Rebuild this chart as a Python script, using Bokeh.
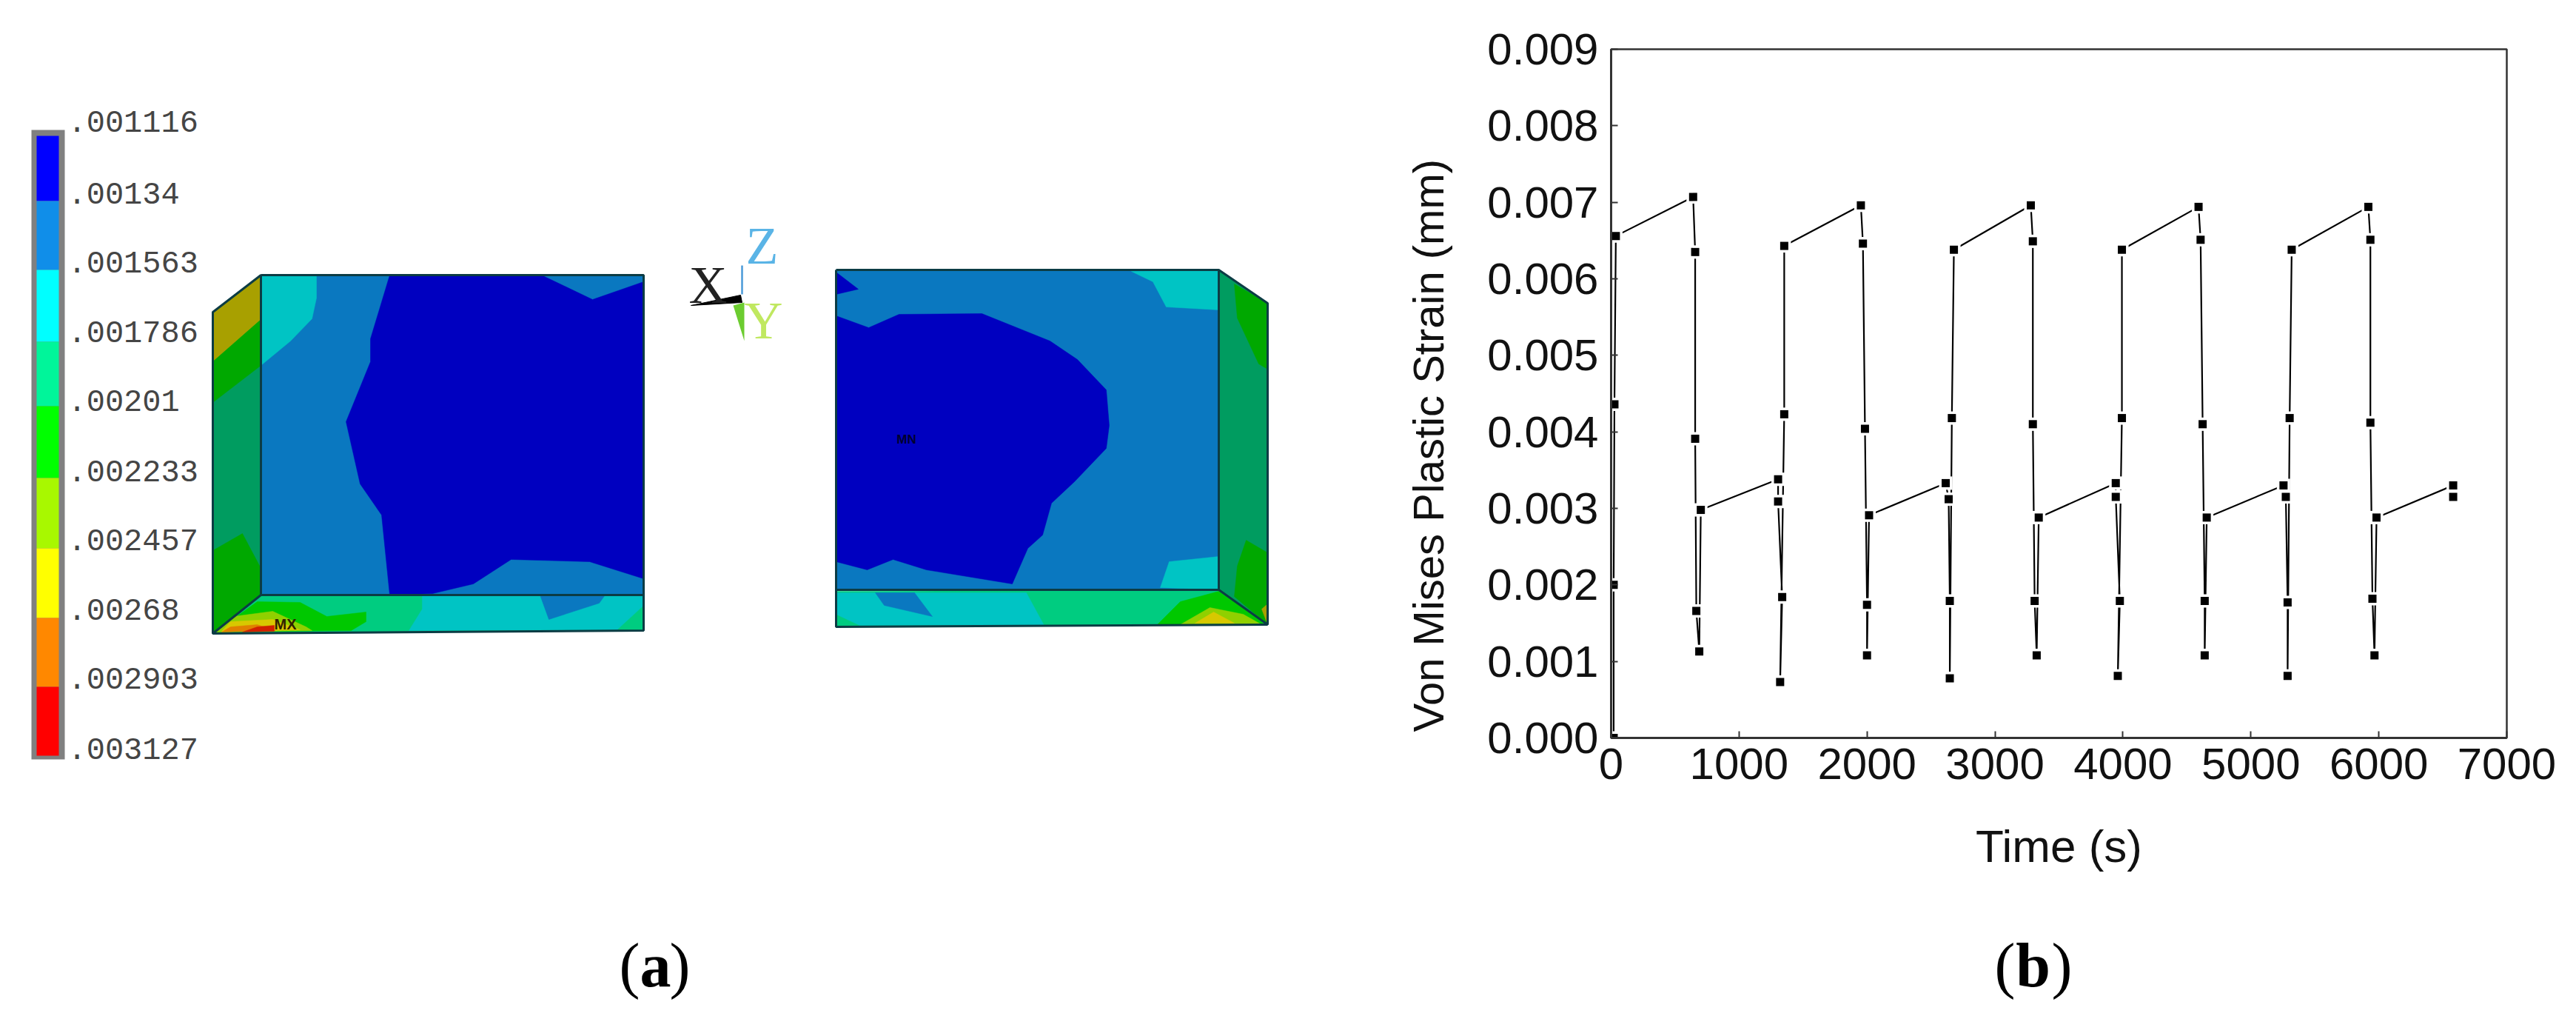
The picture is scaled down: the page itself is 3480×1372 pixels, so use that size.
from bokeh.plotting import figure
from bokeh.layouts import row, column
from bokeh.models import Range1d, Title, FixedTicker, NumeralTickFormatter
from bokeh.embed import file_html
from bokeh.resources import INLINE

# ---------- panel (b): chart data ----------
time_s = [20, 20, 26, 37, 641, 657, 657, 666, 689, 701, 1305, 1305, 1337, 1321, 1353, 1353,
          1952, 1968, 1984, 2000, 2000, 2016, 2615, 2638, 2647, 2647, 2663, 2679,
          3280, 3296, 3296, 3310, 3326, 3342, 3944, 3944, 3976, 3960, 3992, 3992,
          4591, 4607, 4623, 4639, 4639, 4655, 5255, 5273, 5287, 5287, 5303, 5319,
          5918, 5934, 5934, 5950, 5966, 5982, 6581, 6581]
strain = [0.00000, 0.00200, 0.00436, 0.00656, 0.00707, 0.00635, 0.00391, 0.00166, 0.00113, 0.00298,
          0.00338, 0.00309, 0.00184, 0.00073, 0.00423, 0.00643,
          0.00696, 0.00646, 0.00404, 0.00174, 0.00108, 0.00291, 0.00333, 0.00312, 0.00179, 0.00078,
          0.00418, 0.00638,
          0.00696, 0.00649, 0.00410, 0.00179, 0.00108, 0.00288, 0.00333, 0.00315, 0.00179, 0.00081,
          0.00418, 0.00638,
          0.00694, 0.00651, 0.00410, 0.00179, 0.00108, 0.00288, 0.00330, 0.00315, 0.00177, 0.00081,
          0.00418, 0.00638,
          0.00694, 0.00651, 0.00412, 0.00182, 0.00108, 0.00288, 0.00330, 0.00315]
x_ticks = [0, 1000, 2000, 3000, 4000, 5000, 6000, 7000]
y_ticks = [0.000, 0.001, 0.002, 0.003, 0.004, 0.005, 0.006, 0.007, 0.008, 0.009]
x_title = "Time (s)"
y_title = "Von Mises Plastic Strain (mm)"

# ---------- panel (a): colour key ----------
key_labels = [".001116", ".00134", ".001563", ".001786", ".00201",
              ".002233", ".002457", ".00268", ".002903", ".003127"]
key_centers = [163, 260, 353, 447, 540, 635, 728, 822, 915, 1010]
key_edges = [183, 271, 364, 461, 548, 645, 740, 834, 927, 1020]
key_colors = ["#0000ff", "#108ee9", "#00ffff", "#00f59a", "#00ff00",
              "#a8f800", "#ffff00", "#ff8800", "#ff0000"]

# ---------- panel (a): contour regions, in picture coordinates ----------
C_MID = "#0a78c0"; C_DEEP = "#0000c0"; C_CYAN = "#00c4c4"; C_TEAL = "#00cc80"
C_SIDE = "#009c60"; C_GREEN = "#00a800"; C_BRIGHT = "#00c800"; C_OLIVE = "#a8a000"
C_LIME = "#90d000"; C_YEL = "#d8c800"; C_OR = "#e08000"; C_RED = "#d02000"

left_regions = [
    (C_MID, [(352, 371), (869, 371), (869, 803), (352, 803)]),
    (C_DEEP, [(526, 371), (731, 371), (800, 404), (869, 380), (869, 781), (796, 758), (690, 755),
              (639, 788), (584, 801), (526, 803), (515, 695), (486, 653), (467, 569), (500, 488), (500, 457)]),
    (C_CYAN, [(352, 371), (427, 371), (427, 402), (421, 430), (392, 460), (352, 493)]),
    (C_SIDE, [(287, 421), (352, 371), (352, 803), (287, 855)]),
    (C_OLIVE, [(287, 421), (352, 371), (352, 431), (287, 488)]),
    (C_GREEN, [(287, 488), (352, 431), (352, 493), (287, 543)]),
    (C_GREEN, [(287, 743), (327, 720), (352, 767), (352, 803), (287, 855)]),
    (C_TEAL, [(352, 803), (869, 803), (869, 851), (287, 855)]),
    (C_CYAN, [(570, 803), (869, 803), (869, 817), (833, 850), (552, 851), (570, 822)]),
    (C_MID, [(729, 803), (817, 803), (809, 814), (741, 836)]),
    (C_BRIGHT, [(347, 812), (405, 813), (441, 832), (494, 826), (494, 839), (474, 851), (290, 853)]),
    (C_LIME, [(315, 832), (368, 825), (413, 846), (421, 851), (292, 853)]),
    (C_YEL, [(311, 839), (368, 836), (405, 850), (299, 852)]),
    (C_OR, [(311, 846), (347, 843), (372, 851), (299, 853)]),
    (C_RED, [(347, 846), (370, 844), (370, 852), (327, 853)]),
]
right_regions = [
    (C_MID, [(1129, 364), (1646, 364), (1646, 796), (1129, 796)]),
    (C_DEEP, [(1129, 426), (1173, 442), (1214, 424), (1326, 423), (1418, 460), (1455, 485), (1494, 526),
              (1498, 574), (1494, 605), (1451, 650), (1420, 679), (1408, 722), (1388, 740), (1367, 788),
              (1251, 769), (1206, 755), (1171, 769), (1129, 758)]),
    (C_DEEP, [(1129, 367), (1159, 390), (1129, 397)]),
    (C_CYAN, [(1528, 366), (1646, 364), (1646, 418), (1575, 414), (1557, 380)]),
    (C_CYAN, [(1579, 758), (1646, 751), (1646, 796), (1567, 793)]),
    (C_TEAL, [(1129, 798), (1646, 796), (1712, 843), (1129, 846)]),
    (C_CYAN, [(1129, 800), (1386, 800), (1410, 844), (1161, 844), (1129, 829)]),
    (C_MID, [(1182, 800), (1235, 800), (1259, 832), (1194, 817)]),
    (C_BRIGHT, [(1563, 843), (1594, 812), (1646, 798), (1696, 832), (1708, 843)]),
    (C_LIME, [(1594, 843), (1634, 820), (1679, 829), (1704, 843)]),
    (C_YEL, [(1614, 841), (1639, 826), (1667, 841)]),
    (C_SIDE, [(1646, 364), (1712, 409), (1712, 843), (1646, 796)]),
    (C_GREEN, [(1667, 383), (1712, 409), (1712, 498), (1700, 491), (1671, 429)]),
    (C_GREEN, [(1683, 729), (1712, 746), (1712, 843), (1667, 805), (1671, 764)]),
    (C_OLIVE, [(1704, 822), (1712, 815), (1712, 843)]),
]
EDGE = "#0c3c44"
edge_paths = [
    [(352, 371), (869, 371), (869, 851), (287, 855), (287, 421), (352, 371), (352, 803), (869, 803)],
    [(352, 803), (287, 855)],
    [(1129, 364), (1646, 364), (1712, 409), (1712, 843), (1646, 796), (1129, 796)],
    [(1129, 364), (1129, 846), (1712, 843)],
    [(1646, 364), (1646, 796)],
]

PANEL_A_W = 1780
TOTAL_W = 3464
TOTAL_H = 1356
CAPTION_H = 146
FS_SANS = "Liberation Sans"
FS_SERIF = "Liberation Serif"

def caption(fig, items, y):
    for s, px, style in items:
        fig.text(x=[px], y=[y], text=[s], text_font=dict(value=FS_SERIF), text_font_style=style,
                 text_font_size="84px", text_color="black", text_align="center", text_baseline="middle")

# ---------- panel (a) figure ----------
a = figure(width=PANEL_A_W, height=TOTAL_H, x_range=Range1d(0, PANEL_A_W),
           y_range=Range1d(TOTAL_H, 0), output_backend="svg", toolbar_location=None,
           min_border=0, outline_line_color=None, x_axis_type=None, y_axis_type=None)
a.grid.visible = False

a.quad(left=[42], right=[87], top=[175], bottom=[1025], fill_color="#808080", line_color=None)
a.quad(left=[49] * len(key_colors), right=[79] * len(key_colors),
       top=key_edges[:-1], bottom=key_edges[1:], fill_color=key_colors, line_color=None)
a.text(x=[91] * len(key_labels), y=key_centers, text=key_labels, text_font=dict(value="Liberation Mono"),
       text_font_size="42px", text_color="#454545", text_baseline="middle", text_align="left")

for colour, pts in left_regions + right_regions:
    a.patch([p[0] for p in pts], [p[1] for p in pts], fill_color=colour, line_color=colour, line_width=0.5)
for path in edge_paths:
    a.line([p[0] for p in path], [p[1] for p in path], line_color=EDGE, line_width=3)

a.text(x=[370], y=[842], text=["MX"], text_font=dict(value=FS_SANS), text_font_style="bold",
       text_font_size="20px", text_color="#302000", text_baseline="middle")
a.text(x=[1224], y=[593], text=["MN"], text_font=dict(value=FS_SANS), text_font_style="bold",
       text_font_size="17px", text_color="#000030", text_baseline="middle", text_align="center")

# axis triad
a.patch([933, 1000, 1002], [412, 398, 408], fill_color="black", line_color="black")
a.patch([990, 1005, 1005], [412, 408, 460], fill_color="#6ccc30", line_color=None)
a.line([1002, 1002], [358, 397], line_color="#4a9ad8", line_width=2.5)
for s, px, py, col in [("X", 956, 384, "#222222"), ("Z", 1029, 331, "#5ab4e6"), ("Y", 1031, 432, "#c0e860")]:
    a.text(x=[px], y=[py], text=[s], text_font=dict(value=FS_SERIF), text_font_size="72px",
           text_color=col, text_align="center", text_baseline="middle")

caption(a, [("(", 850, "normal"), ("a", 885, "bold"), (")", 918, "normal")], 1303)

# ---------- panel (b) figure ----------
FRAME_L, FRAME_R, FRAME_T, FRAME_B = 2176, 3386, 66, 996
B_H = TOTAL_H - CAPTION_H
b = figure(width=TOTAL_W - PANEL_A_W, height=B_H, x_range=Range1d(x_ticks[0], x_ticks[-1]),
           y_range=Range1d(y_ticks[0], y_ticks[-1]), output_backend="svg", toolbar_location=None,
           min_border_left=FRAME_L - PANEL_A_W, min_border_right=TOTAL_W - FRAME_R,
           min_border_top=FRAME_T, min_border_bottom=B_H - FRAME_B,
           outline_line_color="#333333", outline_line_width=2.5)
b.grid.visible = False

b.line(time_s, strain, line_color="black", line_width=2.2)
b.scatter(time_s, strain, marker="square", size=18, fill_color="white", line_color=None)
b.scatter(time_s, strain, marker="square", size=11, fill_color="black", line_color=None)

b.xaxis.ticker = FixedTicker(ticks=x_ticks)
b.yaxis.ticker = FixedTicker(ticks=y_ticks)
b.yaxis.formatter = NumeralTickFormatter(format="0.000")
for ax in (b.xaxis[0], b.yaxis[0]):
    ax.major_tick_in = 9
    ax.major_tick_out = 0
    ax.minor_tick_line_color = None
    ax.major_tick_line_color = "#333333"
    ax.major_tick_line_width = 2
    ax.axis_line_color = "#333333"
    ax.axis_line_width = 3
    ax.major_label_text_font = FS_SANS
    ax.major_label_text_font_size = "60px"
    ax.major_label_text_color = "#111111"
    ax.major_label_standoff = 14
b.yaxis.major_label_standoff = 17

b.xaxis.axis_label = x_title
b.xaxis.axis_label_text_font = FS_SANS
b.xaxis.axis_label_text_font_style = "normal"
b.xaxis.axis_label_text_font_size = "62px"
b.xaxis.axis_label_text_color = "#111111"
b.xaxis.axis_label_standoff = 53

b.add_layout(Title(text=y_title, text_font=FS_SANS, text_font_style="normal", text_font_size="58px",
                   text_color="#111111", align="left", offset=8, standoff=90), "left")

# caption (b) sits in a strip below the chart; its frame lines up with the chart's
cap = figure(width=TOTAL_W - PANEL_A_W, height=CAPTION_H, x_range=Range1d(FRAME_L, FRAME_R),
             y_range=Range1d(TOTAL_H, B_H), output_backend="svg", toolbar_location=None,
             min_border_left=FRAME_L - PANEL_A_W, min_border_right=TOTAL_W - FRAME_R,
             min_border_top=0, min_border_bottom=0, outline_line_color=None,
             x_axis_type=None, y_axis_type=None)
cap.grid.visible = False
caption(cap, [("(", 2708, "normal"), ("b", 2746, "bold"), (")", 2785, "normal")], 1303)

open("out.html", "w").write(file_html(row(column(a), column(b, cap)), INLINE))
